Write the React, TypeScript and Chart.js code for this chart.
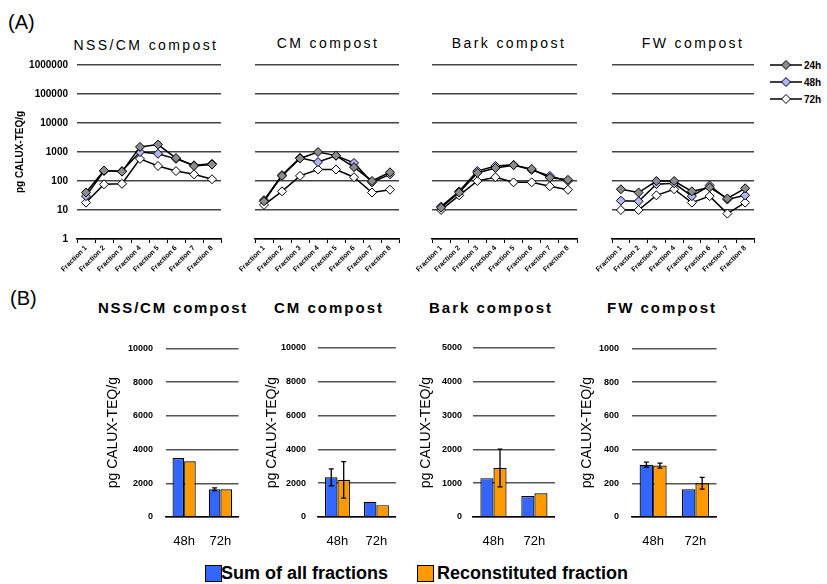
import React, { useEffect, useRef } from 'react';
import { Chart, registerables } from 'chart.js';

Chart.register(...registerables);

const FONT = "'Liberation Sans', Arial, sans-serif";
Chart.defaults.font.family = FONT;
Chart.defaults.color = '#000';

// ---------- Panel A data ----------
const fractions = ['Fraction 1', 'Fraction 2', 'Fraction 3', 'Fraction 4', 'Fraction 5', 'Fraction 6', 'Fraction 7', 'Fraction 8'];
const logTicks = [1, 10, 100, 1000, 10000, 100000, 1000000];
const seriesA = ['24h', '48h', '72h'];

const nssCm24 = [40, 230, 210, 1500, 1800, 620, 330, 370];
const nssCm48 = [30, 220, 220, 1000, 870, 580, 350, 390];
const nssCm72 = [18, 77, 80, 580, 330, 220, 170, 115];

const cm24 = [20, 150, 600, 1000, 750, 300, 100, 200];
const cm48 = [22, 160, 630, 450, 740, 420, 90, 170];
const cm72 = [15, 44, 150, 250, 250, 135, 40, 50];

const bark24 = [12, 40, 190, 280, 350, 260, 130, 110];
const bark48 = [13, 44, 220, 330, 360, 240, 150, 100];
const bark72 = [10, 32, 100, 135, 90, 90, 66, 50];

const fw24 = [52, 40, 100, 100, 44, 60, 25, 56];
const fw48 = [21, 20, 78, 83, 30, 70, 23, 32];
const fw72 = [10, 10, 32, 52, 18, 30, 7.5, 18];

// ---------- Panel B data ----------
const timeCats = ['48h', '72h'];
const seriesB = ['Sum of all fractions', 'Reconstituted fraction'];

const nssSum = [3500, 1650];
const nssRecon = [3300, 1650];
const nssSumErr = [0, 80];
const nssReconErr = [0, 0];
const nssTicks = [0, 2000, 4000, 6000, 8000, 10000];

const cmSum = [2350, 900];
const cmRecon = [2200, 700];
const cmSumErr = [500, 0];
const cmReconErr = [1080, 0];
const cmTicks = [0, 2000, 4000, 6000, 8000, 10000];

const barkSum = [1150, 620];
const barkRecon = [1450, 700];
const barkSumErr = [0, 0];
const barkReconErr = [560, 0];
const barkTicks = [0, 1000, 2000, 3000, 4000, 5000];

const fwSum = [310, 165];
const fwRecon = [305, 200];
const fwSumErr = [15, 0];
const fwReconErr = [15, 35];
const fwTicks = [0, 200, 400, 600, 800, 1000];

const COLORS_A = ['#8c8c8c', '#b4b4f8', '#ffffff'];
const COLORS_B = ['#3366ff', '#ff9900'];

const errorBarPlugin = {
  id: 'errorBars',
  afterDatasetsDraw(chart: any) {
    const ctx = chart.ctx;
    const yScale = chart.scales.y;
    chart.data.datasets.forEach((ds: any, di: number) => {
      const errs = ds.errorBars;
      if (!errs) return;
      const meta = chart.getDatasetMeta(di);
      meta.data.forEach((el: any, i: number) => {
        const e = errs[i];
        if (!e) return;
        const v = ds.data[i];
        const x = el.x;
        const yTop = yScale.getPixelForValue(v + e);
        const yBot = yScale.getPixelForValue(v - e);
        ctx.save();
        ctx.strokeStyle = '#000';
        ctx.lineWidth = 1.3;
        ctx.beginPath();
        ctx.moveTo(x, yTop);
        ctx.lineTo(x, yBot);
        ctx.moveTo(x - 2.5, yTop);
        ctx.lineTo(x + 2.5, yTop);
        ctx.moveTo(x - 2.5, yBot);
        ctx.lineTo(x + 2.5, yBot);
        ctx.stroke();
        ctx.restore();
      });
    });
  },
};

function lineConfig(d24: number[], d48: number[], d72: number[], showY: boolean): any {
  const mk = (label: string, data: number[], fill: string) => ({
    label,
    data,
    borderColor: '#000',
    borderWidth: 1.5,
    pointStyle: 'rectRot',
    pointRadius: 4.5,
    pointBorderWidth: 1,
    pointBorderColor: '#000',
    pointBackgroundColor: fill,
    fill: false,
    tension: 0,
  });
  return {
    type: 'line',
    data: {
      labels: fractions,
      datasets: [mk(seriesA[0], d24, COLORS_A[0]), mk(seriesA[1], d48, COLORS_A[1]), mk(seriesA[2], d72, COLORS_A[2])],
    },
    options: {
      animation: false,
      responsive: false,
      devicePixelRatio: 1,
      layout: { padding: { top: 37, right: 7, left: showY ? 0 : 25, bottom: 0 } },
      plugins: { legend: { display: false }, tooltip: { enabled: false }, title: { display: false } },
      scales: {
        x: {
          type: 'category',
          offset: true,
          grid: { display: true, offset: true, drawOnChartArea: false, drawTicks: true, tickLength: 4, color: '#000', lineWidth: 1 },
          border: { display: true, color: '#000', width: 1.5 },
          ticks: { autoSkip: false, minRotation: 45, maxRotation: 45, padding: 1, color: '#000', font: { size: 7, weight: 'bold', family: FONT } },
          afterFit: (s: any) => { s.height = 36; },
        },
        y: {
          type: 'logarithmic',
          min: 1,
          max: 1000000,
          afterBuildTicks: (s: any) => { s.ticks = logTicks.map((v) => ({ value: v })); },
          ticks: { display: showY, callback: (v: any) => String(v), padding: 9, color: '#000', font: { size: 10, weight: 'bold', family: FONT } },
          grid: { color: '#444', lineWidth: 1.5, drawTicks: false },
          border: { display: false },
          title: { display: showY, text: 'pg CALUX-TEQ/g', color: '#000', font: { size: 10, weight: 'bold', family: FONT }, padding: { top: 14, bottom: 0 } },
          afterFit: (s: any) => { s.width = showY ? 77 : 0; },
        },
      },
    },
  };
}

function barConfig(sum: number[], recon: number[], sumErr: number[], reconErr: number[], ticks: number[], yW: number, titlePad: number, tickPad: number): any {
  return {
    type: 'bar',
    data: {
      labels: timeCats,
      datasets: [
        { label: seriesB[0], data: sum, errorBars: sumErr, backgroundColor: COLORS_B[0], borderColor: '#000', borderWidth: 1.2, categoryPercentage: 0.64, barPercentage: 1 },
        { label: seriesB[1], data: recon, errorBars: reconErr, backgroundColor: COLORS_B[1], borderColor: '#000', borderWidth: 1.2, categoryPercentage: 0.64, barPercentage: 1 },
      ],
    },
    plugins: [errorBarPlugin],
    options: {
      animation: false,
      responsive: false,
      devicePixelRatio: 1,
      layout: { padding: { top: 18, right: 7, left: 0, bottom: 0 } },
      plugins: { legend: { display: false }, tooltip: { enabled: false }, title: { display: false } },
      scales: {
        x: {
          grid: { display: false, drawTicks: false },
          border: { display: true, color: '#000', width: 1.5 },
          ticks: { padding: 17, color: '#000', font: { size: 13, family: FONT } },
          afterFit: (s: any) => { s.height = 40; },
        },
        y: {
          min: ticks[0],
          max: ticks[ticks.length - 1],
          afterBuildTicks: (s: any) => { s.ticks = ticks.map((v) => ({ value: v })); },
          ticks: { padding: tickPad, color: '#000', callback: (v: any) => String(v), font: { size: 9, weight: 'bold', family: FONT } },
          grid: { color: '#555', lineWidth: 1.5, drawTicks: false },
          border: { display: false },
          title: { display: true, text: 'pg CALUX-TEQ/g', color: '#000', font: { size: 14, family: FONT }, padding: { top: titlePad, bottom: 0 } },
          afterFit: (s: any) => { s.width = yW; },
        },
      },
    },
  };
}

function ChartCanvas({ left, top, width, height, makeConfig }: { left: number; top: number; width: number; height: number; makeConfig: () => any }) {
  const ref = useRef<HTMLCanvasElement>(null);
  useEffect(() => {
    const chart = new Chart(ref.current as HTMLCanvasElement, makeConfig());
    return () => chart.destroy();
  }, []);
  return <canvas ref={ref} width={width} height={height} style={{ position: 'absolute', left, top, width, height, display: 'block' }} />;
}

function Text({ cx, cy, text, size, bold, ls }: { cx: number; cy: number; text: string; size: number; bold?: boolean; ls?: number }) {
  return (
    <div
      style={{
        position: 'absolute',
        left: cx - 150,
        top: cy - size * 0.6,
        width: 300,
        textAlign: 'center',
        fontFamily: FONT,
        fontSize: size,
        lineHeight: `${size * 1.2}px`,
        fontWeight: bold ? 'bold' : 'normal',
        letterSpacing: ls ? `${ls}px` : undefined,
        whiteSpace: 'nowrap',
        color: '#000',
      }}
    >
      {text}
    </div>
  );
}

function LegendA() {
  const ys = [65, 82, 99];
  return (
    <>
      {seriesA.map((s, i) => (
        <div key={s} style={{ position: 'absolute', left: 770, top: ys[i] - 7, height: 14, display: 'flex', alignItems: 'center' }}>
          <svg width={32} height={14}>
            <line x1={0} y1={7} x2={32} y2={7} stroke="#000" strokeWidth={1.5} />
            <polygon points="16,2.5 20.5,7 16,11.5 11.5,7" fill={COLORS_A[i]} stroke="#000" strokeWidth={1} />
          </svg>
          <span style={{ fontFamily: FONT, fontSize: 10, fontWeight: 'bold', marginLeft: 2, color: '#000' }}>{s}</span>
        </div>
      ))}
    </>
  );
}

function LegendB() {
  const items = [
    { x: 205, tx: 221 },
    { x: 417, tx: 437 },
  ];
  return (
    <>
      {seriesB.map((s, i) => (
        <React.Fragment key={s}>
          <div style={{ position: 'absolute', left: items[i].x, top: 565, width: 15, height: 15, background: COLORS_B[i], border: '1px solid #000' }} />
          <div style={{ position: 'absolute', left: items[i].tx, top: 562, fontFamily: FONT, fontSize: 18, lineHeight: '22px', fontWeight: 'bold', whiteSpace: 'nowrap', color: '#000' }}>{s}</div>
        </React.Fragment>
      ))}
    </>
  );
}

export default function App() {
  return (
    <div style={{ position: 'absolute', left: 0, top: 0, width: 827, height: 584, background: '#fff', overflow: 'hidden' }}>
      <div style={{ position: 'absolute', left: 8, top: 10, fontFamily: FONT, fontSize: 20, lineHeight: '24px' }}>(A)</div>
      <div style={{ position: 'absolute', left: 10, top: 286, fontFamily: FONT, fontSize: 20, lineHeight: '24px' }}>(B)</div>

      <Text cx={146} cy={45} text="NSS/CM compost" size={14} ls={2.4} />
      <Text cx={328} cy={43} text="CM compost" size={14} ls={2.4} />
      <Text cx={509} cy={43} text="Bark compost" size={14} ls={2.4} />
      <Text cx={693} cy={43} text="FW compost" size={14} ls={2.4} />

      <ChartCanvas left={0} top={28} width={228} height={247} makeConfig={() => lineConfig(nssCm24, nssCm48, nssCm72, true)} />
      <ChartCanvas left={230} top={28} width={176} height={247} makeConfig={() => lineConfig(cm24, cm48, cm72, false)} />
      <ChartCanvas left={407} top={28} width={177} height={247} makeConfig={() => lineConfig(bark24, bark48, bark72, false)} />
      <ChartCanvas left={587} top={28} width={174} height={247} makeConfig={() => lineConfig(fw24, fw48, fw72, false)} />
      <LegendA />

      <Text cx={173} cy={308} text="NSS/CM compost" size={15} bold ls={1.8} />
      <Text cx={329} cy={308} text="CM compost" size={15} bold ls={2} />
      <Text cx={491} cy={308} text="Bark compost" size={15} bold ls={2} />
      <Text cx={662} cy={308} text="FW compost" size={15} bold ls={2} />

      <ChartCanvas left={100} top={330} width={150} height={227} makeConfig={() => barConfig(nssSum, nssRecon, nssSumErr, nssReconErr, nssTicks, 66, 4.6, 13)} />
      <ChartCanvas left={255} top={330} width={151} height={227} makeConfig={() => barConfig(cmSum, cmRecon, cmSumErr, cmReconErr, cmTicks, 63, 8.6, 12)} />
      <ChartCanvas left={410} top={330} width={154} height={227} makeConfig={() => barConfig(barkSum, barkRecon, barkSumErr, barkReconErr, barkTicks, 63, 7.6, 11)} />
      <ChartCanvas left={570} top={330} width={155} height={227} makeConfig={() => barConfig(fwSum, fwRecon, fwSumErr, fwReconErr, fwTicks, 62, 8.6, 13)} />

      <LegendB />
    </div>
  );
}
